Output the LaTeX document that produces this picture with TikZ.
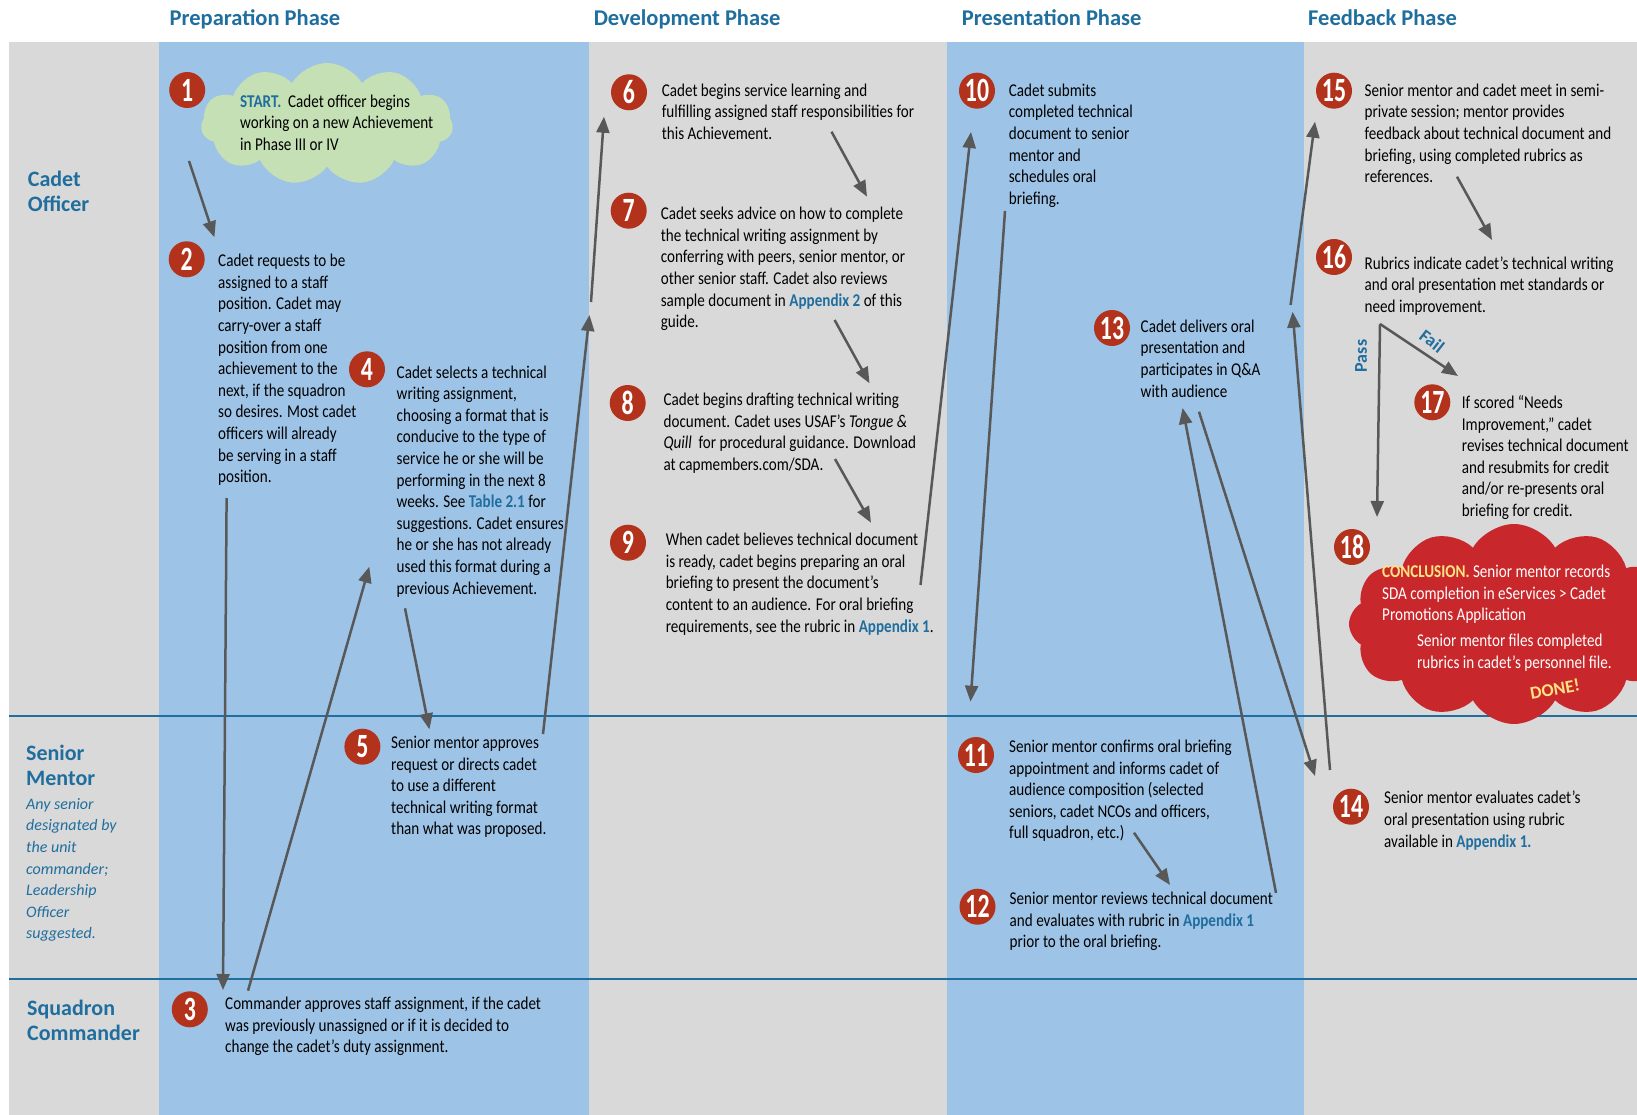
\documentclass[tikz,border=0pt]{standalone}
\usepackage{fontspec}
\setmainfont{Carlito}[FakeStretch=0.84]
\newfontfamily\widefont{Carlito}
\newfontfamily\numfam{Carlito}[FakeStretch=0.7]
\usetikzlibrary{arrows.meta,shapes.symbols}

\definecolor{bandgray}{RGB}{217,217,217}
\definecolor{colblue}{RGB}{157,195,230}
\definecolor{headblue}{RGB}{31,110,158}
\definecolor{numred}{RGB}{178,50,27}
\definecolor{startgreen}{RGB}{197,224,180}
\definecolor{endred}{RGB}{200,40,44}
\definecolor{endyellow}{RGB}{255,226,130}
\definecolor{arrowgray}{RGB}{88,88,88}

\newcommand{\link}[1]{\textbf{\color{headblue}#1}}

\tikzset{
  phase/.style={anchor=base west, inner sep=0pt, text=headblue, font=\widefont\bfseries\fontsize{22.5}{27}\selectfont},
  lane/.style={anchor=north west, inner sep=0pt, align=left, text=headblue, font=\widefont\bfseries\fontsize{22}{24.5}\selectfont},
  lanenote/.style={anchor=north west, inner sep=0pt, align=left, text=headblue, font=\widefont\itshape\fontsize{16}{21.6}\selectfont},
  num/.style={circle, fill=numred, text=white, minimum size=36pt, inner sep=0pt, font=\numfam\bfseries\fontsize{34}{34}\selectfont},
  desc/.style={anchor=north west, inner sep=0pt, align=left, font=\fontsize{18}{21.6}\selectfont},
  flow/.style={draw=arrowgray, line width=2.5pt, -{Triangle[length=16pt,width=13pt]}},
  branch/.style={inner sep=0pt, text=headblue, font=\widefont\bfseries\fontsize{18}{18}\selectfont},
}

\begin{document}
\begin{tikzpicture}[x=1pt, y=-1pt]
    \clip (0,0) rectangle (1637,1115);
    \fill[white] (0,0) rectangle (1637,1115);
    \fill[bandgray] (9.4,41.8) rectangle (1637,1115);
    \fill[colblue] (158.7,41.8) rectangle (588.8,1115);
    \fill[colblue] (947,41.8) rectangle (1304,1115);
    \draw[headblue, line width=2pt] (9,716) -- (1637,716);
    \draw[headblue, line width=2pt] (9,979) -- (1637,979);

%phases
    \node[phase] (ph1) at (169.5,26) {Preparation Phase};
    \node[phase] (ph2) at (593.6,26) {Development Phase};
    \node[phase] (ph3) at (961.7,26) {Presentation Phase};
    \node[phase] (ph4) at (1308,26) {Feedback Phase};

%lanes
    \node[lane] (lane1) at (27.7,171) {Cadet\\Officer};
    \node[lane] (lane2) at (26,745) {Senior\\Mentor};
    \node[lanenote] (note2) at (26,798) {Any senior\\designated by\\the unit\\commander;\\Leadership\\Officer\\suggested.};
    \node[lane] (lane3) at (27,1000) {Squadron\\Commander};

%clouds
    \node[cloud, cloud puffs=11, cloud puff arc=120, fill=startgreen, minimum width=252pt, minimum height=122pt] (startcloud) at (327,124) {};
    \node[cloud, cloud puffs=12, cloud puff arc=120, fill=endred, minimum width=330pt, minimum height=200pt] (endcloud) at (1514,624) {};

%steps
    \node[num] (n1) at (187.2,90) {1};
    \node[num] (n2) at (186.7,259.3) {2};
    \node[num] (n3) at (189.8,1009.3) {3};
    \node[num] (n4) at (367,369.3) {4};
    \node[num] (n5) at (362.4,746.7) {5};
    \node[num] (n6) at (629,92.3) {6};
    \node[num] (n7) at (628.7,210.7) {7};
    \node[num] (n8) at (627.7,403) {8};
    \node[num] (n9) at (628,542.7) {9};
    \node[num] (n10) at (977,90.7) {10};
    \node[num] (n11) at (976,755) {11};
    \node[num] (n12) at (977.5,906.7) {12};
    \node[num] (n13) at (1112,328) {13};
    \node[num] (n14) at (1351,806.7) {14};
    \node[num] (n15) at (1334,90.7) {15};
    \node[num] (n16) at (1334,257) {16};
    \node[num] (n17) at (1432.3,402.3) {17};
    \node[num] (n18) at (1352,547) {18};

    \node[desc] (t1) at (240,94.7) {{\color{headblue}\bfseries START.}~ Cadet officer begins\\working on a new Achievement\\in Phase III or IV};
    \node[desc] (t2) at (218,254) {Cadet requests to be\\assigned to a staff\\position. Cadet may\\carry-over a staff\\position from one\\achievement to the\\next, if the squadron\\so desires. Most cadet\\officers will already\\be serving in a staff\\position.};
    \node[desc] (t3) at (225,997) {Commander approves staff assignment, if the cadet\\was previously unassigned or if it is decided to\\change the cadet’s duty assignment.};
    \node[desc] (t4) at (396.5,365.3) {Cadet selects a technical\\writing assignment,\\choosing a format that is\\conducive to the type of\\service he or she will be\\performing in the next 8\\weeks. See \link{Table 2.1} for\\suggestions. Cadet ensures\\he or she has not already\\used this format during a\\previous Achievement.};
    \node[desc] (t5) at (391,736) {Senior mentor approves\\request or directs cadet\\to use a different\\technical writing format\\than what was proposed.};
    \node[desc] (t6) at (661.6,83.7) {Cadet begins service learning and\\fulfilling assigned staff responsibilities for\\this Achievement.};
    \node[desc] (t7) at (660.6,207) {Cadet seeks advice on how to complete\\the technical writing assignment by\\conferring with peers, senior mentor, or\\other senior staff. Cadet also reviews\\sample document in \link{Appendix 2} of this\\guide.};
    \node[desc] (t8) at (663.4,393) {Cadet begins drafting technical writing\\document. Cadet uses USAF’s \textit{Tongue \&}\\\textit{Quill} ~for procedural guidance. Download\\at capmembers.com/SDA.};
    \node[desc] (t9) at (665.6,533) {When cadet believes technical document\\is ready, cadet begins preparing an oral\\briefing to present the document’s\\content to an audience. For oral briefing\\requirements, see the rubric in \link{Appendix 1}.};
    \node[desc] (t10) at (1008.6,83.7) {Cadet submits\\completed technical\\document to senior\\mentor and\\schedules oral\\briefing.};
    \node[desc] (t11) at (1009,739.7) {Senior mentor confirms oral briefing\\appointment and informs cadet of\\audience composition (selected\\seniors, cadet NCOs and officers,\\full squadron, etc.)};
    \node[desc] (t12) at (1009.5,892) {Senior mentor reviews technical document\\and evaluates with rubric in \link{Appendix 1}\\prior to the oral briefing.};
    \node[desc] (t13) at (1140.5,319.7) {Cadet delivers oral\\presentation and\\participates in Q\&A\\with audience};
    \node[desc] (t14) at (1384,791) {Senior mentor evaluates cadet’s\\oral presentation using rubric\\available in \link{Appendix 1.}};
    \node[desc] (t15) at (1364.5,83.7) {Senior mentor and cadet meet in semi-\\private session; mentor provides\\feedback about technical document and\\briefing, using completed rubrics as\\references.};
    \node[desc] (t16) at (1364.5,256.3) {Rubrics indicate cadet’s technical writing\\and oral presentation met standards or\\need improvement.};
    \node[desc] (t17) at (1461.7,395.3) {If scored “Needs\\Improvement,” cadet\\revises technical document\\and resubmits for credit\\and/or re-presents oral\\briefing for credit.};
    \node[desc, text=white] (t18a) at (1382,565) {{\color{endyellow}\bfseries CONCLUSION.} Senior mentor records\\SDA completion in eServices > Cadet\\Promotions Application};
    \node[desc, text=white] (t18b) at (1417,634) {Senior mentor files completed\\rubrics in cadet’s personnel file.};
    \node[branch, text=endyellow, rotate=10] (done) at (1555,689) {DONE!};

%arrows
    \coordinate (a1s) at (189,161);   \coordinate (a1e) at (214.4,237.3);
    \coordinate (a2s) at (226.6,498); \coordinate (a2e) at (223,990);
    \coordinate (a3s) at (248,990.7); \coordinate (a3e) at (369.3,566.7);
    \coordinate (a4s) at (405,608.3); \coordinate (a4e) at (429.4,729.3);
    \coordinate (a5s) at (543,734);   \coordinate (a5m) at (589.5,315);
    \coordinate (a5n) at (591,302);   \coordinate (a5e) at (604,116.7);
    \coordinate (a6s) at (831.5,131.7); \coordinate (a6e) at (867,196.7);
    \coordinate (a7s) at (834.6,320); \coordinate (a7e) at (869.5,383.3);
    \coordinate (a8s) at (835,459);   \coordinate (a8e) at (871,522.7);
    \coordinate (a9s) at (920.5,585); \coordinate (a9e) at (971,132);
    \coordinate (a10s) at (1005,211); \coordinate (a10e) at (970.5,701.7);
    \coordinate (a11s) at (1134,832.7); \coordinate (a11e) at (1170,885);
    \coordinate (a12s) at (1276,893); \coordinate (a12e) at (1182.6,408);
    \coordinate (a13s) at (1199,411.7); \coordinate (a13e) at (1315,776);
    \coordinate (a14s) at (1330,770); \coordinate (a14m) at (1292.6,311.7);
    \coordinate (a14n) at (1290.6,305); \coordinate (a14e) at (1315,121.7);
    \coordinate (a15s) at (1457,176.7); \coordinate (a15e) at (1492,240);
    \coordinate (fork) at (1380,324);
    \coordinate (failend) at (1458,376);
    \coordinate (passend) at (1377,517);

    \draw[flow] (a1s) -- (a1e);
    \draw[flow] (a2s) -- (a2e);
    \draw[flow] (a3s) -- (a3e);
    \draw[flow] (a4s) -- (a4e);
    \draw[flow] (a5s) -- (a5m);
    \draw[flow] (a5n) -- (a5e);
    \draw[flow] (a6s) -- (a6e);
    \draw[flow] (a7s) -- (a7e);
    \draw[flow] (a8s) -- (a8e);
    \draw[flow] (a9s) -- (a9e);
    \draw[flow] (a10s) -- (a10e);
    \draw[flow] (a11s) -- (a11e);
    \draw[flow] (a12s) -- (a12e);
    \draw[flow] (a13s) -- (a13e);
    \draw[flow] (a14s) -- (a14m);
    \draw[flow] (a14n) -- (a14e);
    \draw[flow] (a15s) -- (a15e);
    \draw[flow] (fork) -- (failend);
    \draw[flow] (fork) -- (passend);
    \node[branch, rotate=90] (pass) at (1361,356) {Pass};
    \node[branch, rotate=-38] (fail) at (1432,341) {Fail};
\end{tikzpicture}
\end{document}
